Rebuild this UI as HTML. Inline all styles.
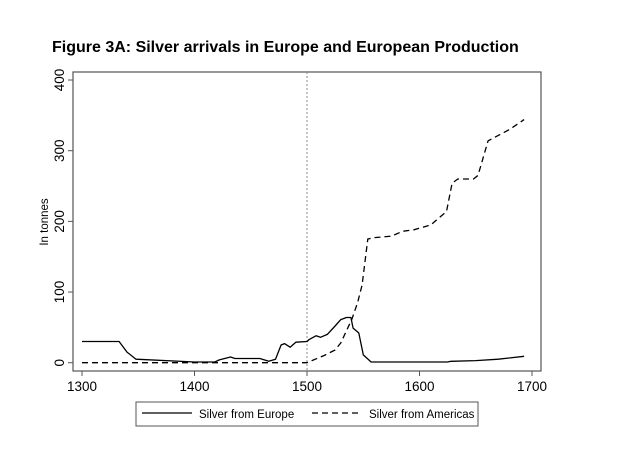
<!DOCTYPE html>
<html><head><meta charset="utf-8"><style>
body{margin:0;background:#fff;width:640px;height:471px;overflow:hidden;font-family:"Liberation Sans",Arial,sans-serif}
</style></head><body>
<svg width="640" height="471" xmlns="http://www.w3.org/2000/svg">
<text x="52" y="52" font-size="16" font-weight="bold" fill="#000">Figure 3A: Silver arrivals in Europe and European Production</text>
<rect x="73" y="72" width="468" height="299" fill="none" stroke="#555" stroke-width="1.2"/>
<text transform="translate(48,222) rotate(-90)" text-anchor="middle" font-size="11.5">In tonnes</text>
<g id="axes"></g>
<g id="series"></g>
<rect x="136" y="402" width="342" height="24" fill="#fff" stroke="#555"/>
<line x1="142" y1="413" x2="192" y2="413" stroke="#000" stroke-width="1.2"/>
<text x="199" y="418" font-size="11.5">Silver from Europe</text>
<line x1="312" y1="413" x2="362" y2="413" stroke="#000" stroke-width="1.2" stroke-dasharray="6,4"/>
<text x="369" y="418" font-size="11.5">Silver from Americas</text>
</svg>
<script>
const xTicks=[1300,1400,1500,1600,1700];
const yTicks=[0,100,200,300,400];
const europeYears=[1300,1333,1340,1348,1400,1418,1422,1432,1436,1458,1466,1472,1477,1480,1485,1490,1500,1502,1508,1512,1518,1525,1530,1535,1539,1541,1546,1550,1557,1625,1628,1650,1670,1693];
const europeValues=[30,30,15,5,1,1,4,8,6,6,2,5,25,27,22,29,30,33,38,36,40,52,61,64,64,49,42,11,1,1,2,3,5,9];
const americasYears=[1300,1500,1515,1525,1530,1535,1540,1545,1549,1554,1560,1575,1585,1595,1610,1624,1629,1634,1648,1652,1661,1680,1693];
const americasValues=[0,0,10,18,28,45,62,85,110,175,177,179,186,188,195,214,254,260,260,265,314,330,344];
const NS="http://www.w3.org/2000/svg";
const xs=y=>82+(y-1300)*1.125;
const ys=v=>362.7-v*0.7067;
const axes=document.getElementById('axes'),series=document.getElementById('series');
function mk(tag,attrs,parent){const e=document.createElementNS(NS,tag);for(const k in attrs)e.setAttribute(k,attrs[k]);parent.appendChild(e);return e;}
xTicks.forEach(t=>{
 const l=mk('line',{x1:xs(t),x2:xs(t),y1:371,y2:376,stroke:'#555'},axes);
 
 
 const tx=mk('text',{x:xs(t),y:391,'text-anchor':'middle','font-size':'13.5'},axes);
 tx.textContent=t;
 
 
});
yTicks.forEach(t=>{
 const l=mk('line',{x1:68,x2:73,y1:ys(t),y2:ys(t),stroke:'#555'},axes);
 
 
 const tx=mk('text',{transform:`translate(64,${ys(t)}) rotate(-90)`,'text-anchor':'middle','font-size':'13.5'},axes);
 tx.textContent=t;
 
 
});
const ref=mk('line',{x1:xs(1500),x2:xs(1500),y1:72,y2:371,stroke:'#888','stroke-dasharray':'2,2'},axes);


function pts(xa,va){return xa.map((y,i)=>xs(y).toFixed(1)+','+ys(va[i]).toFixed(1)).join(' ');}
const am=mk('polyline',{points:pts(americasYears,americasValues),fill:'none',stroke:'#000','stroke-width':1.3,'stroke-dasharray':'6,4'},series);


const eu=mk('polyline',{points:pts(europeYears,europeValues),fill:'none',stroke:'#000','stroke-width':1.3,'stroke-linejoin':'round'},series);


</script>
</body></html>
